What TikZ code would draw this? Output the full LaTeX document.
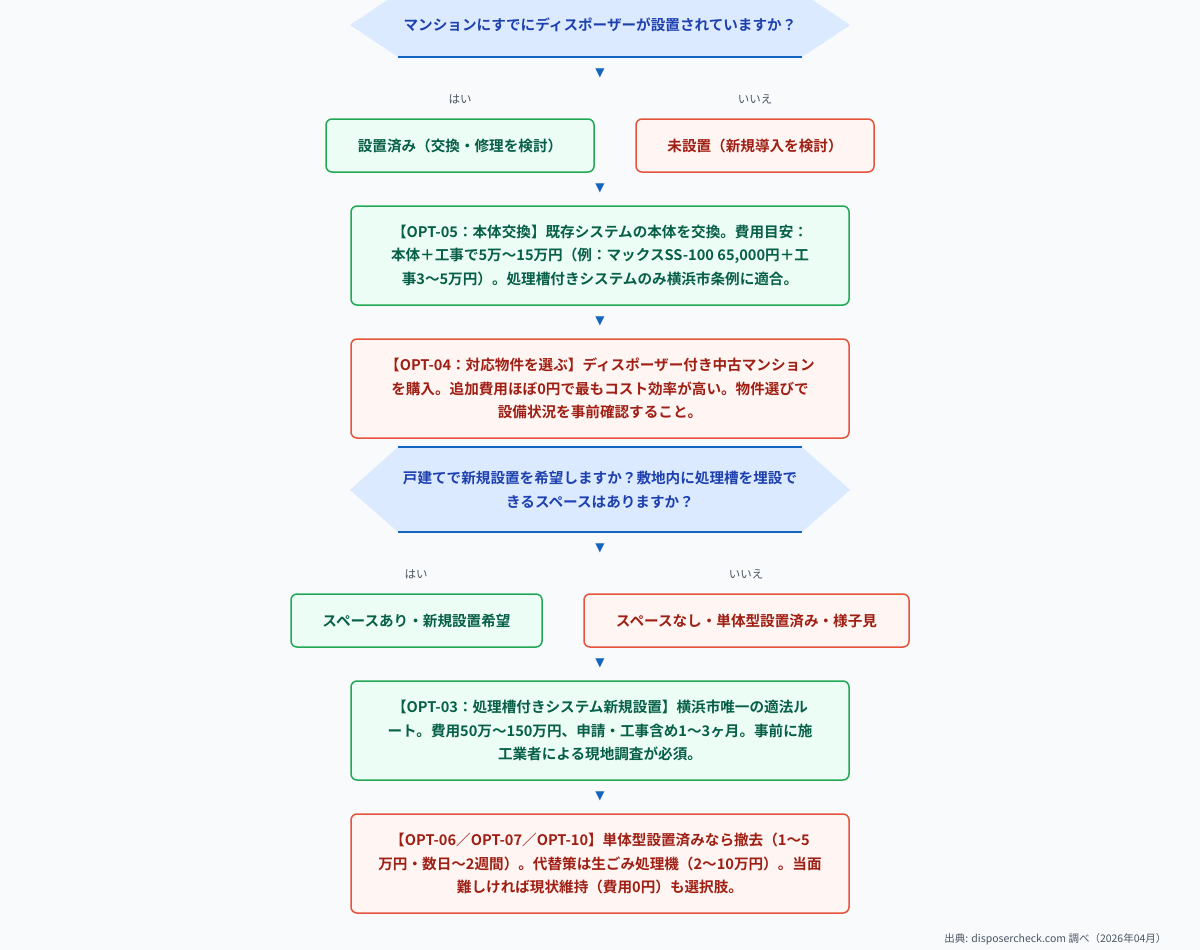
\documentclass[tikz,border=0pt]{standalone}
\usepackage{fontspec}
\setmainfont{Noto Sans CJK JP}[BoldFont={Noto Sans CJK JP Bold}]
\newfontfamily\symf{DejaVu Sans}
\definecolor{bg}{HTML}{F8FAFC}
\definecolor{qfill}{HTML}{DBEAFE}
\definecolor{qline}{HTML}{1565C0}
\definecolor{qtext}{HTML}{1E40AF}
\definecolor{gline}{HTML}{22A855}
\definecolor{gfill}{HTML}{ECFDF5}
\definecolor{gtext}{HTML}{065F46}
\definecolor{rline}{HTML}{E5533D}
\definecolor{rfill}{HTML}{FFF5F2}
\definecolor{rtext}{HTML}{9F1F14}
\definecolor{lab}{HTML}{4B5563}
\begin{document}
\begin{tikzpicture}[x=1pt,y=-1pt,
  yes/.style={draw=gline,fill=gfill,line width=1.5pt,rounded corners=6pt,text=gtext,font=\bfseries\fontsize{14.6}{23.5}\selectfont,align=center},
  no/.style={draw=rline,fill=rfill,line width=1.5pt,rounded corners=6pt,text=rtext,font=\bfseries\fontsize{14.6}{23.5}\selectfont,align=center},
  qtxt/.style={text=qtext,font=\bfseries\fontsize{14.6}{23.5}\selectfont,align=center},
  arr/.style={text=qline,font=\symf\fontsize{12}{12}\selectfont},
  lbl/.style={text=lab,font=\fontsize{11.5}{12}\selectfont}]
\fill[bg] (0,0) rectangle (1200,950);
\useasboundingbox (0,0) rectangle (1200,950);
% Q1
\fill[qfill] (350,25) -- (398,-7) -- (802,-7) -- (850,25) -- (802,57) -- (398,57) -- cycle;
\draw[qline,line width=1.2pt] (398,57) -- (802,57);
\node[qtxt] (q1) at (600,25) {マンションにすでにディスポーザーが設置されていますか？};
\node[arr] (a1) at (600,73) {▼};
\node[lbl] (l1) at (460,99) {はい};
\node[lbl] (l2) at (755,99) {いいえ};
\node[yes,minimum width=268pt,minimum height=53pt] (y1) at (460,145.5) {設置済み（交換・修理を検討）};
\node[no,minimum width=238pt,minimum height=53pt] (n1) at (755,145.5) {未設置（新規導入を検討）};
\node[arr] (a2) at (600,188) {▼};
\node[yes,minimum width=498pt,minimum height=99pt] (o5) at (600,255.5) {【OPT-05：本体交換】既存システムの本体を交換。費用目安：\\本体＋工事で5万〜15万円（例：マックスSS-100 65,000円＋工\\事3〜5万円）。処理槽付きシステムのみ横浜市条例に適合。};
\node[arr] (a3) at (600,321) {▼};
\node[no,minimum width=498pt,minimum height=99pt] (o4) at (600,388.5) {【OPT-04：対応物件を選ぶ】ディスポーザー付き中古マンション\\を購入。追加費用ほぼ0円で最もコスト効率が高い。物件選びで\\設備状況を事前確認すること。};
% Q2
\fill[qfill] (350,490) -- (398,447) -- (802,447) -- (850,490) -- (802,532) -- (398,532) -- cycle;
\draw[qline,line width=1.2pt] (398,447) -- (802,447) (398,532) -- (802,532);
\node[qtxt] (q2) at (600,490) {戸建てで新規設置を希望しますか？敷地内に処理槽を埋設で\\きるスペースはありますか？};
\node[arr] (a4) at (600,548) {▼};
\node[lbl] (l3) at (416,574) {はい};
\node[lbl] (l4) at (746,574) {いいえ};
\node[yes,minimum width=251pt,minimum height=53pt] (y2) at (416.5,620.5) {スペースあり・新規設置希望};
\node[no,minimum width=325pt,minimum height=53pt] (n2) at (746.5,620.5) {スペースなし・単体型設置済み・様子見};
\node[arr] (a5) at (600,663) {▼};
\node[yes,minimum width=498pt,minimum height=99pt] (o3) at (600,730.5) {【OPT-03：処理槽付きシステム新規設置】横浜市唯一の適法ル\\ート。費用50万〜150万円、申請・工事含め1〜3ヶ月。事前に施\\工業者による現地調査が必須。};
\node[arr] (a6) at (600,796) {▼};
\node[no,minimum width=498pt,minimum height=99pt] (o6) at (600,863.5) {【OPT-06／OPT-07／OPT-10】単体型設置済みなら撤去（1〜5\\万円・数日〜2週間）。代替策は生ごみ処理機（2〜10万円）。当面\\難しければ現状維持（費用0円）も選択肢。};
\node[lbl,anchor=east,font=\fontsize{10.5}{12}\selectfont] (src) at (1170,939) {出典: disposercheck.com 調べ（2026年04月）};
\end{tikzpicture}
\end{document}
